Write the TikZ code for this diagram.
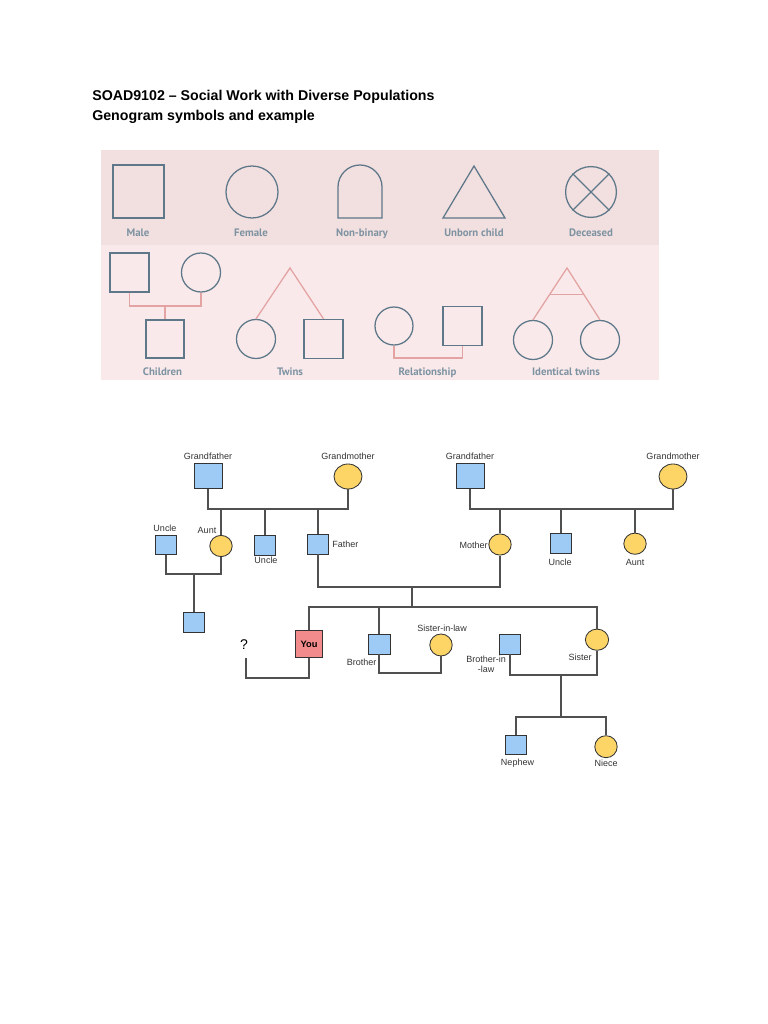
\documentclass[tikz,border=0pt]{standalone}
\usepackage{fontspec}
\setmainfont{Liberation Sans}
\newfontfamily\panelfont{PT Sans}
\usepackage{xcolor}
\definecolor{paneltop}{HTML}{F2DFDF}
\definecolor{panelbot}{HTML}{F9E9EA}
\definecolor{symline}{HTML}{5E7889}
\definecolor{symtext}{HTML}{7E93A2}
\definecolor{symlink}{HTML}{E3A3A3}
\definecolor{malefill}{HTML}{9DCBF5}
\definecolor{femalefill}{HTML}{FDD567}
\definecolor{youfill}{HTML}{F28B8B}
\definecolor{tieline}{HTML}{505050}
\usepackage{tikz}
\usetikzlibrary{shapes.geometric, positioning, calc}

\begin{document}
\begin{tikzpicture}[
    x=0.025cm, y=-0.025cm,
    headtext/.style={anchor=base west, inner sep=0pt, font=\bfseries\fontsize{10.1}{12}\selectfont},
    symbox/.style={draw=symline, line width=0.9pt, rectangle, inner sep=0pt, minimum size=0.975cm},
    symcircle/.style={draw=symline, line width=0.9pt, circle, inner sep=0pt, minimum size=0.975cm},
    symlabel/.style={anchor=base, inner sep=0pt, text=symtext, font=\panelfont\bfseries\fontsize{7.7}{9}\selectfont},
    symtie/.style={draw=symlink, line width=0.9pt},
    malenode/.style={draw=black!80, fill=malefill, rectangle, inner sep=0pt, line width=0.6pt, minimum width=0.52cm, minimum height=0.5cm},
    femalenode/.style={draw=black!80, fill=femalefill, ellipse, inner sep=0pt, line width=0.6pt, minimum width=0.56cm, minimum height=0.53cm},
    eldernode/.style={minimum width=0.7cm, minimum height=0.64cm},
    famlabel/.style={inner sep=0pt, text=black!80, font=\fontsize{6.4}{7}\selectfont},
    tie/.style={draw=tieline, line width=1pt}
  ]
  \useasboundingbox (0,0) rectangle (768,1024);

  \node (title) [headtext] at (92,100.7) {SOAD9102 – Social Work with Diverse Populations};
  \node (subtitle) [headtext] at (92,121) {Genogram symbols and example};

  % symbol panel
  \fill[paneltop] (101,150) rectangle (659,245);
  \fill[panelbot] (101,245) rectangle (659,380);

  \node (male) [symbox, minimum width=1.28cm, minimum height=1.32cm] at (138.5,191.5) {};
  \node (female) [symcircle, minimum size=1.3cm] at (252,192) {};
  \draw[symline, line width=0.9pt] (338,218) -- (338,187) arc[start angle=180, end angle=0, radius=0.55cm] -- (382,218) -- cycle;
  \draw[symline, line width=0.9pt] (474,166) -- (505,218) -- (443,218) -- cycle;
  \node (dead) [symcircle, minimum size=1.27cm] at (591,192) {};
  \draw[symline, line width=0.9pt] (dead.north west) -- (dead.south east);
  \draw[symline, line width=0.9pt] (dead.north east) -- (dead.south west);

  \node (malelab) [symlabel] at (138,236.5) {Male};
  \node (femalelab) [symlabel] at (251,236.5) {Female};
  \node (nblab) [symlabel] at (362,236.5) {Non-binary};
  \node (unbornlab) [symlabel] at (474,236.5) {Unborn child};
  \node (deadlab) [symlabel] at (591,236.5) {Deceased};

  \node (chdad) [symbox] at (129.5,272.5) {};
  \node (chmum) [symcircle] at (201,272.5) {};
  \node (chkid) [symbox, minimum size=0.95cm] at (165,339) {};
  \coordinate (chtie) at (165,306);
  \draw[symtie] (chdad.south) |- (chtie) -| (chmum.south);
  \draw[symtie] (chtie) -- (chkid.north);

  \coordinate (twtop) at (290,268);
  \node (twgirl) [symcircle] at (256,339) {};
  \node (twboy) [symbox] at (323.5,339) {};
  \draw[symtie] (twgirl.north) -- (twtop) -- (twboy.north);

  \node (relf) [symcircle, minimum size=0.95cm] at (394,326) {};
  \node (relm) [symbox] at (462.5,326) {};
  \coordinate (reltie) at (430,358);
  \draw[symtie] (relf.south) |- (reltie) -| (relm.south);

  \coordinate (idtop) at (567,268);
  \node (idone) [symcircle] at (533,340) {};
  \node (idtwo) [symcircle] at (600,340) {};
  \draw[symtie] (idone.north) -- (idtop) -- (idtwo.north);
  \draw[symtie] ($(idtop)!0.51!(idone.north)$) -- ($(idtop)!0.51!(idtwo.north)$);

  \node (chlab) [symlabel] at (162.5,375) {Children};
  \node (twlab) [symlabel] at (290,375) {Twins};
  \node (rellab) [symlabel] at (427.5,375) {Relationship};
  \node (idlab) [symlabel] at (566,375) {Identical twins};

  % father's side
  \node (gfa) [malenode, eldernode] at (208,476) {};
  \node (gma) [femalenode, eldernode, minimum height=0.625cm] at (348,476.5) {};
  \node (gfalab) [famlabel] at (208,456) {Grandfather};
  \node (gmalab) [famlabel] at (348,456) {Grandmother};
  \node (unclea) [malenode, minimum height=0.46cm] at (166,545) {};
  \node (aunta) [femalenode] at (221,546) {};
  \node (uncleb) [malenode] at (265,545) {};
  \node (father) [malenode] at (318,544) {};
  \node (cousin) [malenode] at (194,622) {};
  \node (unclealab) [famlabel] at (165,528) {Uncle};
  \node (auntalab) [famlabel] at (207,530) {Aunt};
  \node (uncleblab) [famlabel] at (266,560) {Uncle};
  \node (fatherlab) [famlabel, anchor=west] at (332,544) {Father};

  \coordinate (gpa) at (278,509);
  \draw[tie] (gfa.south) |- (gpa) -| (gma.south);
  \draw[tie] (aunta.north) -- (aunta.north |- gpa);
  \draw[tie] (uncleb.north) -- (uncleb.north |- gpa);
  \draw[tie] (father.north) -- (father.north |- gpa);
  \coordinate (uatie) at (194,574);
  \draw[tie] (unclea.south) |- (uatie) -| (aunta.south);
  \draw[tie] (uatie) -- (cousin.north);

  % mother's side
  \node (gfb) [malenode, eldernode] at (470,476) {};
  \node (gmb) [femalenode, eldernode, minimum height=0.625cm] at (673,476.5) {};
  \node (gfblab) [famlabel] at (470,456) {Grandfather};
  \node (gmblab) [famlabel] at (673,456) {Grandmother};
  \node (mother) [femalenode] at (500,544.5) {};
  \node (unclec) [malenode] at (561,543) {};
  \node (auntc) [femalenode] at (635,543.7) {};
  \node (motherlab) [famlabel, anchor=east] at (488,545) {Mother};
  \node (uncleclab) [famlabel] at (560,562) {Uncle};
  \node (auntclab) [famlabel] at (635,562) {Aunt};

  \coordinate (gpb) at (570,509);
  \draw[tie] (gfb.south) |- (gpb) -| (gmb.south);
  \draw[tie] (mother.north) -- (mother.north |- gpb);
  \draw[tie] (unclec.north) -- (unclec.north |- gpb);
  \draw[tie] (auntc.north) -- (auntc.north |- gpb);

  % parents and children
  \coordinate (parents) at (412,587);
  \coordinate (kids) at (412,607);
  \draw[tie] (father.south) |- (parents) -| (mother.south);
  \draw[tie] (parents) -- (kids);

  \node (you) [malenode, fill=youfill, minimum width=0.69cm, minimum height=0.67cm, font=\bfseries\fontsize{6.6}{7}\selectfont] at (309,644) {You};
  \node (qmark) [inner sep=0pt, font=\fontsize{10}{12}\selectfont] at (244,645) {?};
  \node (brother) [malenode, minimum width=0.55cm] at (379,644) {};
  \node (sil) [femalenode, minimum height=0.55cm] at (441,645) {};
  \node (bil) [malenode] at (510,644) {};
  \node (sister) [femalenode, minimum width=0.58cm] at (597,639.7) {};
  \node (nephew) [malenode, minimum height=0.48cm] at (516,745) {};
  \node (niece) [femalenode, minimum height=0.55cm] at (606,746.7) {};
  \node (brotherlab) [famlabel] at (361.7,662.7) {Brother};
  \node (sillab) [famlabel] at (442,628) {Sister-in-law};
  \node (billab) [famlabel, align=center] at (486,664) {Brother-in\\-law};
  \node (sisterlab) [famlabel] at (580,657) {Sister};
  \node (nephewlab) [famlabel] at (517.5,763) {Nephew};
  \node (niecelab) [famlabel] at (606,763) {Niece};

  \draw[tie] (you.north) |- (kids) -| (sister.north);
  \draw[tie] (brother.north) -- (brother.north |- kids);
  \coordinate (partner) at (246,678);
  \draw[tie] (you.south) |- (partner) -- ++(0,-20);
  \coordinate (brtie) at (410,673);
  \draw[tie] (brother.south) |- (brtie) -| (sil.south);
  \coordinate (sistie) at (561,675);
  \coordinate (nntie) at (561,717);
  \draw[tie] (bil.south) |- (sistie) -| (sister.south);
  \draw[tie] (sistie) -- (nntie);
  \draw[tie] (nephew.north) |- (nntie) -| (niece.north);

\end{tikzpicture}
\end{document}
